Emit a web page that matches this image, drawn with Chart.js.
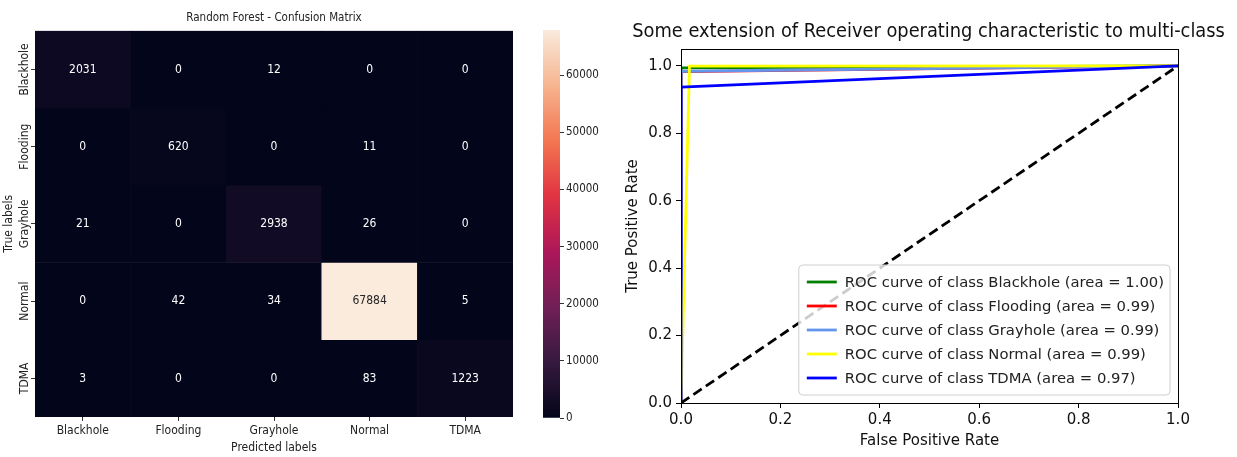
<!DOCTYPE html>
<html>
<head>
<meta charset="utf-8">
<script src="https://cdn.jsdelivr.net/npm/chart.js@4.4.1/dist/chart.umd.min.js"></script>
<style>
  body { margin: 0; background: #fff; overflow: hidden; }
  .box { position: absolute; top: 0; }
</style>
</head>
<body>
<div class="box" style="left:0"><canvas id="cmChart" width="548" height="457"></canvas></div>
<div class="box" style="left:530px"><canvas id="cbarChart" width="90" height="457"></canvas></div>
<div class="box" style="left:620px"><canvas id="rocChart" width="617" height="457"></canvas></div>
<script>
// Confusion matrix (rows = true labels, cols = predicted labels)
const classes = ['Blackhole', 'Flooding', 'Grayhole', 'Normal', 'TDMA'];
const cmBlackhole = [2031, 0, 12, 0, 0];
const cmFlooding = [0, 620, 0, 11, 0];
const cmGrayhole = [21, 0, 2938, 26, 0];
const cmNormal = [0, 42, 34, 67884, 5];
const cmTDMA = [3, 0, 0, 83, 1223];
const confusion = [cmBlackhole, cmFlooding, cmGrayhole, cmNormal, cmTDMA];
const cbarMax = 67884;
const cbarTicks = [0, 10000, 20000, 30000, 40000, 50000, 60000];

// ROC curves (one threshold each)
const fprBlackhole = [0, 0.0003, 1];
const tprBlackhole = [0, 0.994, 1];
const fprFlooding = [0, 0.0006, 1];
const tprFlooding = [0, 0.983, 1];
const fprGrayhole = [0, 0.0006, 1];
const tprGrayhole = [0, 0.984, 1];
const fprNormal = [0, 0.017, 1];
const tprNormal = [0, 0.999, 1];
const fprTDMA = [0, 0.0001, 1];
const tprTDMA = [0, 0.937, 1];
const rocAuc = [1.00, 0.99, 0.99, 0.99, 0.97];
const rocColors = ['#008000', '#ff0000', '#6495ed', '#ffff00', '#0000ff'];
const rocTicks = [0, 0.2, 0.4, 0.6, 0.8, 1.0];

const cmFont = "'DejaVu Sans Condensed', 'DejaVu Sans', sans-serif";
const rocFont = "'DejaVu Sans', sans-serif";
const rocTitle = 'Some extension of Receiver operating characteristic to multi-class';

// fit the ROC title to the width it has in the picture (~593px)
const measure = document.createElement('canvas').getContext('2d');
measure.font = `20px ${cmFont}`;
const rocTitleSize = Math.min(20.5, 20 * 593 / measure.measureText(rocTitle).width);

// seaborn "rocket" colormap stops
const rocketStops = [
    [0.0, [3, 5, 26]],
    [0.143, [53, 25, 62]],
    [0.286, [112, 31, 87]],
    [0.429, [173, 23, 89]],
    [0.571, [225, 51, 66]],
    [0.714, [243, 118, 81]],
    [0.857, [246, 180, 143]],
    [1.0, [250, 235, 221]]
];
function rocketRGB(t) {
    t = Math.max(0, Math.min(1, t));
    for (let i = 1; i < rocketStops.length; i++) {
        const [t1, c1] = rocketStops[i];
        const [t0, c0] = rocketStops[i - 1];
        if (t <= t1) {
            const f = (t - t0) / (t1 - t0);
            return c0.map((v, k) => Math.round(v + (c1[k] - v) * f));
        }
    }
    return rocketStops[rocketStops.length - 1][1];
}
const rocket = t => `rgb(${rocketRGB(t).join(',')})`;
function lum(rgb) {
    const c = rgb.map(v => { v /= 255; return v <= 0.03928 ? v / 12.92 : Math.pow((v + 0.055) / 1.055, 2.4); });
    return 0.2126 * c[0] + 0.7152 * c[1] + 0.0722 * c[2];
}

// Heatmap: cell text + rotated row labels
const cellText = {
    id: 'cellText',
    afterDatasetsDraw(chart) {
        const ctx = chart.ctx;
        ctx.save();
        ctx.font = `12px ${cmFont}`;
        ctx.textAlign = 'center';
        ctx.textBaseline = 'middle';
        confusion.forEach((row, r) => {
            const meta = chart.getDatasetMeta(r);
            row.forEach((v, c) => {
                const bar = meta.data[c];
                const y = (bar.y + bar.base) / 2;
                ctx.fillStyle = lum(rocketRGB(v / cbarMax)) > 0.408 ? '#262626' : '#ffffff';
                ctx.fillText(String(v), bar.x, y);
            });
        });
        const ys = chart.scales.y;
        ctx.fillStyle = '#222';
        classes.forEach((name, i) => {
            const y = ys.getPixelForValue(i + 0.5);
            ctx.save();
            ctx.translate(ys.right - 10, y);
            ctx.rotate(-Math.PI / 2);
            ctx.fillText(name, 0, 0);
            ctx.restore();
        });
        ctx.restore();
    }
};

new Chart(document.getElementById('cmChart'), {
    type: 'bar',
    data: {
        labels: classes,
        datasets: confusion.map((row, r) => ({
            label: classes[r],
            data: row.map(() => [r, r + 1]),
            backgroundColor: row.map(v => rocket(v / cbarMax)),
            borderWidth: 0,
            barPercentage: 1,
            categoryPercentage: 1,
            grouped: false
        }))
    },
    options: {
        responsive: false,
        animation: false,
        layout: { padding: { left: 0, right: 35, top: 0, bottom: 0 } },
        plugins: {
            legend: { display: false },
            tooltip: { enabled: false },
            title: {
                display: true,
                fullSize: false,
                text: 'Random Forest - Confusion Matrix',
                color: '#222',
                font: { family: cmFont, size: 11.5, weight: 'normal' },
                padding: { top: 11, bottom: 6 }
            }
        },
        scales: {
            x: {
                grid: { offset: false, drawOnChartArea: false, drawTicks: true, tickLength: 4, color: '#333' },
                border: { display: false },
                ticks: { color: '#222', font: { family: cmFont, size: 12 }, padding: 3 },
                title: { display: true, text: 'Predicted labels', color: '#222', font: { family: cmFont, size: 12 }, padding: { top: 0, bottom: 2 } },
                afterFit: s => { s.height = 40; }
            },
            y: {
                type: 'linear',
                min: 0,
                max: 5,
                reverse: true,
                afterBuildTicks: s => { s.ticks = classes.map((_, i) => ({ value: i + 0.5 })); },
                grid: { drawOnChartArea: false, drawTicks: true, tickLength: 4, color: '#333' },
                border: { display: false },
                ticks: { display: false },
                title: { display: true, text: 'True labels', color: '#222', font: { family: cmFont, size: 12 }, padding: { top: 2, bottom: 0 } },
                afterFit: s => { s.width = 35; }
            }
        }
    },
    plugins: [cellText]
});

// Colorbar
new Chart(document.getElementById('cbarChart'), {
    type: 'bar',
    data: {
        labels: [''],
        datasets: [{
            data: [[0, cbarMax]],
            backgroundColor: c => {
                const area = c.chart.chartArea;
                if (!area) return null;
                const g = c.chart.ctx.createLinearGradient(0, area.bottom, 0, area.top);
                rocketStops.forEach(([t, rgb]) => g.addColorStop(t, `rgb(${rgb.join(',')})`));
                return g;
            },
            borderWidth: 0,
            barPercentage: 1,
            categoryPercentage: 1
        }]
    },
    options: {
        responsive: false,
        animation: false,
        layout: { padding: { left: 13, right: 0, top: 30, bottom: 39 } },
        plugins: { legend: { display: false }, tooltip: { enabled: false } },
        scales: {
            x: { display: false },
            y: {
                position: 'right',
                min: 0,
                max: cbarMax,
                afterBuildTicks: s => { s.ticks = cbarTicks.map(v => ({ value: v })); },
                grid: { drawOnChartArea: false, drawTicks: true, tickLength: 4, color: '#333' },
                border: { display: false },
                ticks: { color: '#222', font: { family: cmFont, size: 11.5 }, padding: 2, callback: v => String(v) },
                afterFit: s => { s.width = 60; }
            }
        }
    }
});

// ROC chart
const rocClasses = classes;
const rocFpr = [fprBlackhole, fprFlooding, fprGrayhole, fprNormal, fprTDMA];
const rocTpr = [tprBlackhole, tprFlooding, tprGrayhole, tprNormal, tprTDMA];

const frameAndLegend = {
    id: 'frameAndLegend',
    afterDraw(chart) {
        const ctx = chart.ctx;
        const a = chart.chartArea;
        ctx.save();
        ctx.strokeStyle = '#000';
        ctx.lineWidth = 1;
        ctx.strokeRect(Math.round(a.left) + 0.5, Math.round(a.top) + 0.5, Math.round(a.right - a.left), Math.round(a.bottom - a.top));

        ctx.font = `14.8px ${rocFont}`;
        const items = rocClasses.map((c, i) => ({
            text: `ROC curve of class ${c} (area = ${rocAuc[i].toFixed(2)})`,
            color: rocColors[i]
        }));
        const tw = Math.max(...items.map(it => ctx.measureText(it.text).width));
        const rowH = 24;
        const w = 46 + tw + 6;
        const h = items.length * rowH + 10;
        const x0 = a.right - 8 - w;
        const y0 = a.bottom - 8 - h;
        ctx.beginPath();
        ctx.roundRect(x0, y0, w, h, 4);
        ctx.fillStyle = 'rgba(255,255,255,0.8)';
        ctx.fill();
        ctx.strokeStyle = '#d0d0d0';
        ctx.stroke();
        ctx.textBaseline = 'middle';
        items.forEach((it, i) => {
            const y = y0 + 5 + rowH * (i + 0.5);
            ctx.beginPath();
            ctx.moveTo(x0 + 8, y);
            ctx.lineTo(x0 + 38, y);
            ctx.strokeStyle = it.color;
            ctx.lineWidth = 2.8;
            ctx.stroke();
            ctx.fillStyle = '#222';
            ctx.fillText(it.text, x0 + 46, y + 1);
        });
        ctx.restore();
    }
};

const rocDatasets = rocClasses.map((c, i) => ({
    label: `ROC curve of class ${c} (area = ${rocAuc[i].toFixed(2)})`,
    data: rocFpr[i].map((x, k) => ({ x: x, y: rocTpr[i][k] })),
    borderColor: rocColors[i],
    borderWidth: 2.8,
    showLine: true,
    pointRadius: 0,
    fill: false,
    order: 5 - i
}));
rocDatasets.push({
    label: 'chance',
    data: [{ x: 0, y: 0 }, { x: 1, y: 1 }],
    borderColor: '#000',
    borderWidth: 2.8,
    borderDash: [10, 5],
    showLine: true,
    pointRadius: 0,
    order: 0
});

new Chart(document.getElementById('rocChart'), {
    type: 'scatter',
    data: { datasets: rocDatasets },
    options: {
        responsive: false,
        animation: false,
        layout: { padding: { left: 0, right: 0, top: 0, bottom: 3 } },
        plugins: {
            legend: { display: false },
            tooltip: { enabled: false },
            title: {
                display: true,
                text: rocTitle,
                color: '#111',
                font: { family: cmFont, size: rocTitleSize, weight: 'normal' },
                padding: { top: 20, bottom: 49 - 20 - rocTitleSize * 1.2 }
            }
        },
        scales: {
            x: {
                type: 'linear',
                min: 0,
                max: 1,
                afterBuildTicks: s => { s.ticks = rocTicks.map(v => ({ value: v })); },
                grid: { drawOnChartArea: false, drawTicks: true, tickLength: 5, color: '#000' },
                border: { display: true, color: '#000', width: 1 },
                ticks: { color: '#111', font: { family: rocFont, size: 15 }, padding: 3, callback: v => v.toFixed(1) },
                title: { display: true, text: 'False Positive Rate', color: '#111', font: { family: rocFont, size: 15 }, padding: { top: 0, bottom: 4 } },
                afterFit: s => { s.height = 51; }
            },
            y: {
                type: 'linear',
                min: 0,
                max: 1.05,
                afterBuildTicks: s => { s.ticks = rocTicks.map(v => ({ value: v })); },
                grid: { drawOnChartArea: false, drawTicks: true, tickLength: 5, color: '#000' },
                border: { display: true, color: '#000', width: 1 },
                ticks: { color: '#111', font: { family: rocFont, size: 15 }, padding: 4, callback: v => v.toFixed(1) },
                title: { display: true, text: 'True Positive Rate', color: '#111', font: { family: rocFont, size: 15 }, padding: { top: 4, bottom: 0 } },
                afterFit: s => { s.width = 61; }
            },
            // empty right-hand gutter so the title can span the full canvas
            gutter: {
                type: 'linear',
                position: 'right',
                grid: { display: false },
                border: { display: false },
                ticks: { display: false },
                afterFit: s => { s.width = 59; }
            }
        }
    },
    plugins: [frameAndLegend]
});
</script>
</body>
</html>
